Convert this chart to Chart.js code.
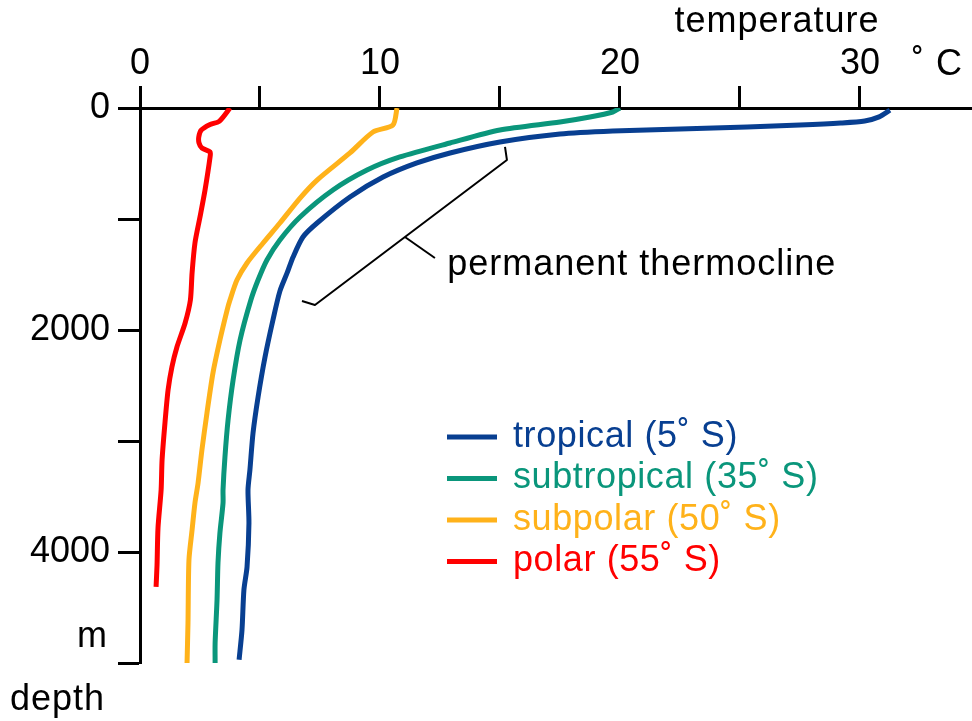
<!DOCTYPE html>
<html>
<head>
<meta charset="utf-8">
<script src="https://cdn.jsdelivr.net/npm/chart.js@4.4.1/dist/chart.umd.min.js"></script>
<style>
  html, body { margin: 0; padding: 0; background: #fff; }
</style>
</head>
<body>
<canvas id="myChart" width="972" height="721"></canvas>
<script>

// temperature ticks / labels (deg C) and depth ticks / labels (m)
var tempTicks = [0, 5, 10, 15, 20, 25, 30];
var tempLabels = [0, 10, 20, 30];
var depthTicks = [0, 1000, 2000, 3000, 4000, 5000];
var depthLabels = [0, 2000, 4000];

var seriesNames = ["tropical (5\u02DA S)", "subtropical (35\u02DA S)", "subpolar (50\u02DA S)", "polar (55\u02DA S)"];

var tropicalDepth = [20, 80, 117, 135, 153, 171, 189, 207, 234, 306, 405, 495, 622, 802, 1036, 1162, 1342, 1486, 1650, 1910, 2243, 2604, 2928, 3261, 3441, 3739, 4135, 4342, 4703, 4970];
var tropicalTemp  = [31.25, 30.8, 30.2, 29.2, 27.5, 25.3, 22.5, 19.7, 17.5, 15.0, 12.92, 11.54, 10.13, 8.75, 7.38, 6.79, 6.38, 6.13, 5.83, 5.54, 5.21, 4.92, 4.71, 4.58, 4.5, 4.54, 4.46, 4.33, 4.25, 4.13];

var subtropicalDepth = [0, 36, 81, 126, 198, 315, 441, 559, 739, 982, 1189, 1369, 1550, 1730, 2090, 2450, 2811, 3144, 3441, 3559, 3829, 4099, 4432, 4820, 5000];
var subtropicalTemp  = [20.0, 19.7, 18.75, 17.5, 15.0, 12.92, 10.83, 9.46, 8.04, 6.67, 5.83, 5.29, 4.92, 4.62, 4.17, 3.88, 3.67, 3.54, 3.46, 3.46, 3.33, 3.25, 3.21, 3.13, 3.13];

var subpolarDepth = [0, 153, 216, 405, 649, 811, 1036, 1216, 1396, 1550, 1730, 1820, 2090, 2387, 2748, 3081, 3378, 3559, 3802, 4072, 4640, 5000];
var subpolarTemp  = [10.71, 10.54, 9.71, 8.75, 7.38, 6.67, 5.83, 5.13, 4.46, 4.04, 3.75, 3.63, 3.33, 3.04, 2.79, 2.58, 2.42, 2.29, 2.17, 2.04, 2.0, 1.96];

var polarDepth = [0, 120, 150, 200, 260, 315, 360, 396, 441, 739, 982, 1216, 1486, 1730, 1937, 2153, 2333, 2541, 2838, 3171, 3441, 3784, 4117, 4315];
var polarTemp  = [3.75, 3.3, 2.9, 2.55, 2.45, 2.46, 2.58, 2.92, 2.92, 2.71, 2.5, 2.29, 2.17, 2.1, 1.88, 1.54, 1.33, 1.17, 1.04, 0.92, 0.88, 0.75, 0.71, 0.67];

// bracket for the "permanent thermocline" note, in [temp, depth]
var bracket = [[15.21, 351], [15.29, 468], [11.04, 1162], [7.29, 1775], [6.75, 1739]];
var pointer = [[11.04, 1162], [12.29, 1351]];
var noteAt = [12.8, 1414];

var colors = ["#083f91", "#0a967b", "#ffb21a", "#ff0000"];
var fontFamily = "'Liberation Sans', Arial, Helvetica, sans-serif";


function toPoints(temps, depths) {
    var pts = [];
    for (var i = 0; i < temps.length; i++) {
        pts.push({ x: temps[i], y: depths[i] });
    }
    return pts;
}

var allTemps = [tropicalTemp, subtropicalTemp, subpolarTemp, polarTemp];
var allDepths = [tropicalDepth, subtropicalDepth, subpolarDepth, polarDepth];

var datasets = [];
for (var i = 0; i < 4; i++) {
    datasets.push({
        label: seriesNames[i],
        data: toPoints(allTemps[i], allDepths[i]),
        borderColor: colors[i],
        backgroundColor: colors[i],
        borderWidth: 5,
        pointRadius: 0,
        showLine: true,
        fill: false,
        tension: 0.25,
        borderJoinStyle: "round",
        borderCapStyle: "butt"
    });
}


// extra texts, note and legend
var extras = {
    id: "extras",
    afterDraw: function (chart) {
        var ctx = chart.ctx;
        var xs = chart.scales.x, ys = chart.scales.y;
        var area = chart.chartArea;

        ctx.save();
        ctx.fillStyle = "#000";
        ctx.font = "36px " + fontFamily;
        ctx.textBaseline = "middle";
        ctx.letterSpacing = "1px";

        ctx.textAlign = "center";
        ctx.fillText("temperature", 777, 22);

        ctx.textAlign = "left";
        ctx.fillText("\u02DA C", 912, 65);
        ctx.fillText("depth", 10, 700);

        ctx.textAlign = "right";
        ctx.fillText("m", area.left - 32, 637);

        // thermocline note
        ctx.strokeStyle = "#000";
        ctx.lineWidth = 2;
        ctx.lineJoin = "round";
        ctx.beginPath();
        bracket.forEach(function (p, k) {
            var px = xs.getPixelForValue(p[0]), py = ys.getPixelForValue(p[1]);
            if (k === 0) ctx.moveTo(px, py); else ctx.lineTo(px, py);
        });
        ctx.stroke();
        ctx.beginPath();
        ctx.moveTo(xs.getPixelForValue(pointer[0][0]), ys.getPixelForValue(pointer[0][1]));
        ctx.lineTo(xs.getPixelForValue(pointer[1][0]), ys.getPixelForValue(pointer[1][1]));
        ctx.stroke();

        ctx.textAlign = "left";
        ctx.fillText("permanent thermocline", xs.getPixelForValue(noteAt[0]), ys.getPixelForValue(noteAt[1]));

        // legend
        ctx.letterSpacing = "0.6px";
        var lx = 447, ly = 437, gap = 41.5;
        chart.data.datasets.forEach(function (ds, k) {
            var y = ly + k * gap;
            ctx.strokeStyle = ds.borderColor;
            ctx.lineWidth = 5;
            ctx.beginPath();
            ctx.moveTo(lx, y);
            ctx.lineTo(lx + 50, y);
            ctx.stroke();
            ctx.fillStyle = ds.borderColor;
            ctx.fillText(ds.label, lx + 66, y);
        });

        ctx.restore();
    }
};


var chart = new Chart(document.getElementById("myChart"), {
    type: "scatter",
    data: { datasets: datasets },
    options: {
        responsive: false,
        animation: false,
        layout: { padding: { left: 0, right: 0, top: 0, bottom: 58 } },
        plugins: {
            legend: { display: false },
            tooltip: { enabled: false }
        },
        scales: {
            x: {
                type: "linear",
                position: "top",
                min: 0,
                max: 34.67,
                afterFit: function (s) { s.height = 108; },
                afterBuildTicks: function (s) {
                    s.ticks = tempTicks.map(function (v) { return { value: v }; });
                },
                ticks: {
                    autoSkip: false,
                    maxRotation: 0,
                    padding: 0,
                    color: "#000",
                    font: { family: fontFamily, size: 36 },
                    callback: function (v) { return tempLabels.indexOf(v) > -1 ? String(v) : ""; }
                },
                grid: {
                    drawOnChartArea: false,
                    drawTicks: true,
                    tickLength: 22,
                    tickWidth: 3,
                    tickColor: "#000"
                },
                border: { display: true, color: "#000", width: 3 }
            },
            y: {
                type: "linear",
                reverse: true,
                min: 0,
                max: 5000,
                afterFit: function (s) { s.width = 140; },
                afterBuildTicks: function (s) {
                    s.ticks = depthTicks.map(function (v) { return { value: v }; });
                },
                ticks: {
                    autoSkip: false,
                    padding: 8,
                    color: "#000",
                    font: { family: fontFamily, size: 36 },
                    callback: function (v) { return depthLabels.indexOf(v) > -1 ? String(v) : ""; }
                },
                grid: {
                    drawOnChartArea: false,
                    drawTicks: true,
                    tickLength: 22,
                    tickWidth: 3,
                    tickColor: "#000"
                },
                border: { display: true, color: "#000", width: 3 }
            }
        }
    },
    plugins: [extras]
});

</script>
</body>
</html>
